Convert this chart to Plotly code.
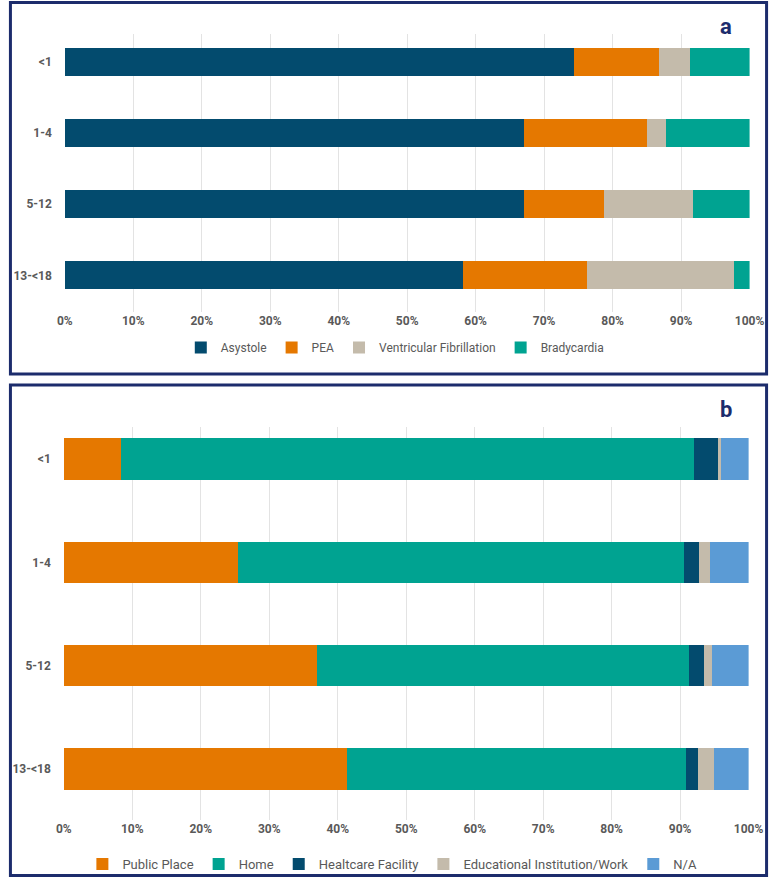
import plotly.graph_objects as go

# ---------------- data ----------------
age_groups = ["<1", "1-4", "5-12", "13-<18"]

# Panel a: initial rhythm (%)
rhythm_names = ["Asystole", "PEA", "Ventricular Fibrillation", "Bradycardia"]
asystole = [74.3, 67.0, 67.1, 58.1]
pea = [12.4, 18.0, 11.6, 18.2]
vf = [4.6, 2.8, 13.1, 21.4]
bradycardia = [8.7, 12.2, 8.2, 2.3]

# Panel b: location (%)
location_names = ["Public Place", "Home", "Healtcare Facility", "Educational Institution/Work", "N/A"]
public_place = [8.4, 25.5, 36.9, 41.3]
home = [83.6, 65.0, 54.4, 49.6]
healthcare = [3.5, 2.3, 2.2, 1.7]
educational = [0.5, 1.6, 1.2, 2.3]
not_available = [4.0, 5.6, 5.3, 5.1]

x_ticks = list(range(0, 101, 10))
x_tick_labels = [f"{v}%" for v in x_ticks]

# ---------------- styles ----------------
NAVY = "#034b6e"
ORANGE = "#e57800"
BEIGE = "#c4bbab"
TEAL = "#00a391"
LBLUE = "#5b9bd5"
BORDER = "#1c2c6c"
GRID = "#e3e3e3"
TXT = "#595959"
FONT = "Roboto, Arial, sans-serif"

W, H = 784, 879

def px_x(p):
    return p / W

def px_y(p):
    return 1 - p / H

fig = go.Figure()

series_a = [asystole, pea, vf, bradycardia]
colors_a = [NAVY, ORANGE, BEIGE, TEAL]
for name, vals, col in zip(rhythm_names, series_a, colors_a):
    fig.add_trace(go.Bar(
        y=age_groups, x=vals, name=name, orientation="h",
        marker=dict(color=col, line=dict(width=0)),
        width=0.39, xaxis="x", yaxis="y", legend="legend",
        hoverinfo="skip",
    ))

series_b = [public_place, home, healthcare, educational, not_available]
colors_b = [ORANGE, TEAL, NAVY, BEIGE, LBLUE]
for name, vals, col in zip(location_names, series_b, colors_b):
    fig.add_trace(go.Bar(
        y=age_groups, x=vals, name=name, orientation="h",
        marker=dict(color=col, line=dict(width=0)),
        width=0.40, xaxis="x2", yaxis="y2", legend="legend2",
        hoverinfo="skip",
    ))

xaxis_common = dict(
    range=[0, 100], tickmode="array", tickvals=x_ticks, ticktext=x_tick_labels,
    showgrid=True, gridcolor=GRID, gridwidth=1, zeroline=False,
    showline=False, ticks="",
    tickfont=dict(family=FONT, size=12, color=TXT, weight="bold"),
    fixedrange=True,
)
yaxis_common = dict(
    type="category", categoryorder="array", categoryarray=age_groups,
    showgrid=False, zeroline=False, showline=False, ticks="",
    tickfont=dict(family=FONT, size=12, color=TXT, weight="bold"),
    ticklabelstandoff=12,
    fixedrange=True,
)

fig.update_layout(
    autosize=True,
    margin=dict(l=0, r=0, t=0, b=0),
    paper_bgcolor="white", plot_bgcolor="white",
    barmode="stack",
    xaxis=dict(domain=[px_x(58.5), px_x(764)], anchor="y", **xaxis_common),
    yaxis=dict(domain=[px_y(312), px_y(34)], anchor="x",
               range=[3.51, -0.393], **yaxis_common),
    xaxis2=dict(domain=[px_x(57.5), px_x(763)], anchor="y2", **xaxis_common),
    yaxis2=dict(domain=[px_y(821), px_y(427)], anchor="x2",
                range=[3.493, -0.314], **yaxis_common),
    legend=dict(
        orientation="h", x=px_x(399), xanchor="center",
        y=px_y(348), yanchor="middle", traceorder="normal",
        font=dict(family=FONT, size=12, color=TXT),
        itemwidth=30, tracegroupgap=0, bgcolor="rgba(0,0,0,0)",
    ),
    legend2=dict(
        orientation="h", x=px_x(396), xanchor="center",
        y=px_y(865), yanchor="middle", traceorder="normal",
        font=dict(family=FONT, size=13, color=TXT),
        itemwidth=30, tracegroupgap=0, bgcolor="rgba(0,0,0,0)",
    ),
    showlegend=True,
    shapes=[
        dict(type="rect", xref="paper", yref="paper",
             x0=px_x(2.5), x1=px_x(781.5), y0=px_y(374.5), y1=px_y(2.5),
             line=dict(color=BORDER, width=3), fillcolor="rgba(0,0,0,0)"),
        dict(type="rect", xref="paper", yref="paper",
             x0=px_x(2.5), x1=px_x(781.5), y0=px_y(876.5), y1=px_y(385.5),
             line=dict(color=BORDER, width=3), fillcolor="rgba(0,0,0,0)"),
    ],
    annotations=[
        dict(text="<b>a</b>", xref="paper", yref="paper",
             x=px_x(740), y=px_y(27), xanchor="center", yanchor="middle",
             showarrow=False, font=dict(family=FONT, size=22, color=BORDER)),
        dict(text="<b>b</b>", xref="paper", yref="paper",
             x=px_x(740), y=px_y(410), xanchor="center", yanchor="middle",
             showarrow=False, font=dict(family=FONT, size=22, color=BORDER)),
    ],
)

fig.write_html(
    "out.html",
    config={"responsive": True, "displayModeBar": False},
    default_width="100%", default_height="100vh",
    post_script=(
        "document.body.style.margin='0';"
        "document.body.style.overflow='hidden';"
        "Plotly.Plots.resize(document.getElementById('{plot_id}'));"
    ),
)
